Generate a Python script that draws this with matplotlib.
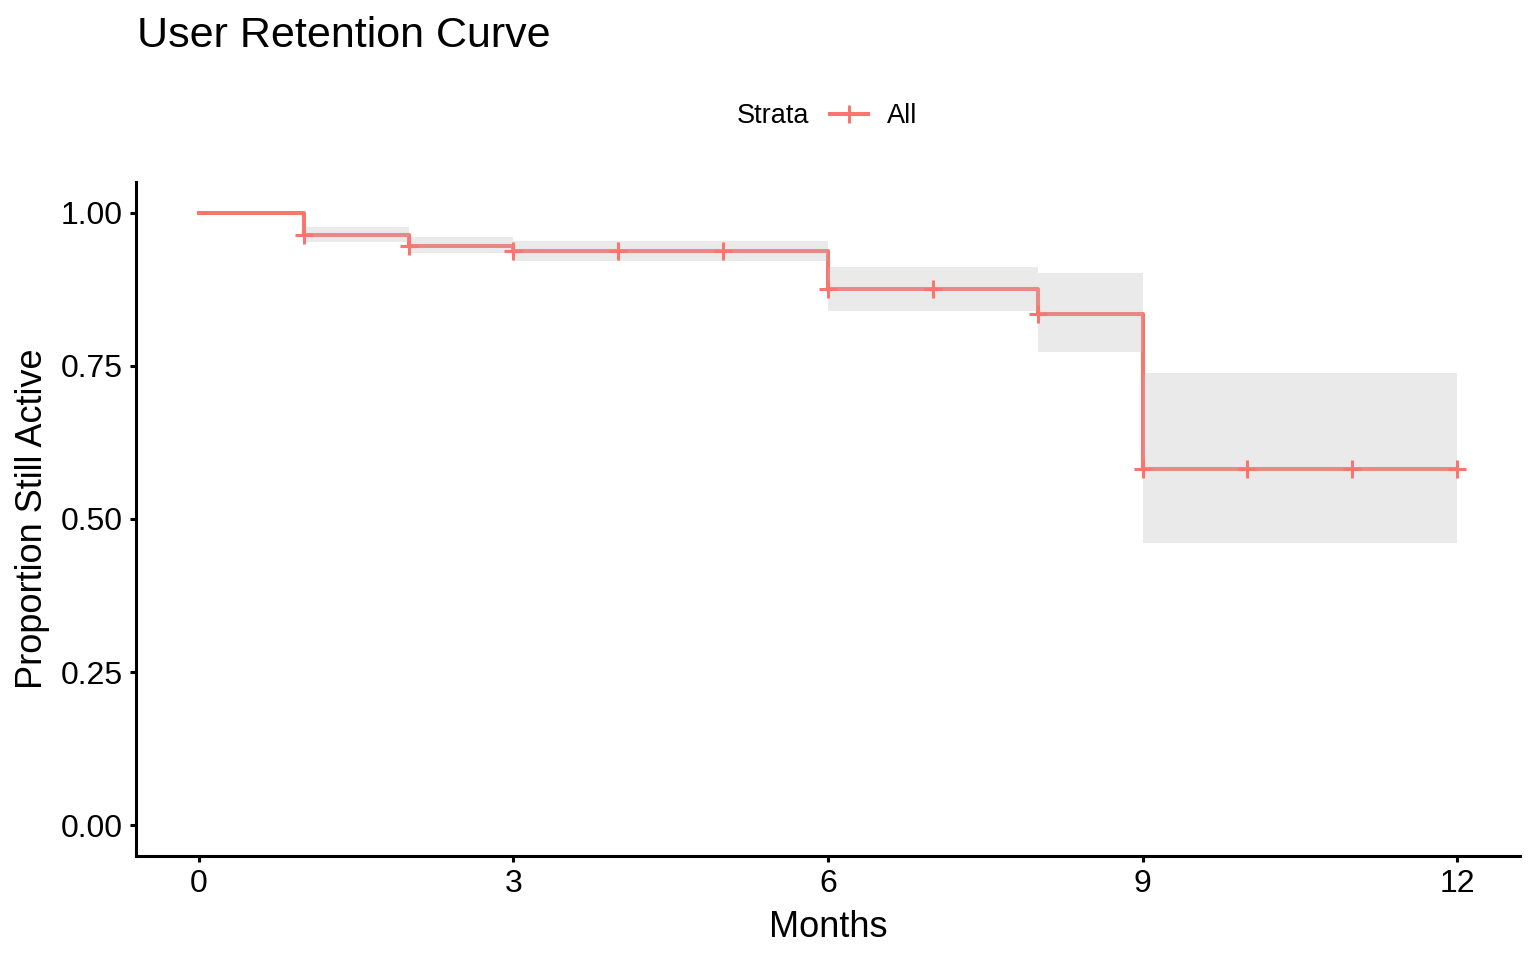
import matplotlib
matplotlib.use("Agg")
import matplotlib.pyplot as plt
from matplotlib.lines import Line2D

plt.rcParams["font.family"] = ["Liberation Sans", "DejaVu Sans"]

# Kaplan-Meier style retention estimates
months = [0, 1, 2, 3, 4, 5, 6, 7, 8, 9, 10, 11, 12]
surv = [1.0, 0.963, 0.946, 0.937, 0.937, 0.937, 0.875, 0.875, 0.835, 0.581, 0.581, 0.581, 0.581]
lower = [1.0, 0.952, 0.934, 0.921, 0.921, 0.921, 0.840, 0.840, 0.773, 0.461, 0.461, 0.461, 0.461]
upper = [1.0, 0.976, 0.961, 0.954, 0.954, 0.954, 0.911, 0.911, 0.901, 0.739, 0.739, 0.739, 0.739]
censor_months = [1, 2, 3, 4, 5, 6, 7, 8, 9, 10, 11, 12]

line_col = "#F8766D"
W, H = 1536, 960

fig = plt.figure(figsize=(W / 100, H / 100), dpi=100)
ax = fig.add_axes([136 / W, 1 - 856 / H, (1520 - 136) / W, (856 - 182) / H])

ax.step(months, surv, where="post", color=line_col, lw=2.9, zorder=2)
ax.fill_between(months, lower, upper, step="post", color="#BBBBBB", alpha=0.3,
                lw=0, zorder=3)
cens_y = [surv[months.index(m)] for m in censor_months]
ax.plot(censor_months, cens_y, ls="none", marker="+", ms=13, mew=2.2,
        color=line_col, zorder=4)

ax.set_xlim(-0.6, 12.6)
ax.set_ylim(-0.05, 1.05)
ax.set_xticks([0, 3, 6, 9, 12])
ax.set_yticks([0, 0.25, 0.5, 0.75, 1.0])
ax.set_yticklabels(["0.00", "0.25", "0.50", "0.75", "1.00"])
ax.tick_params(labelsize=23, width=2.2, length=4.5, color="black", labelcolor="black", pad=5)
for s in ["top", "right"]:
    ax.spines[s].set_visible(False)
for s in ["left", "bottom"]:
    ax.spines[s].set_linewidth(2.2)

ax.set_xlabel("Months", fontsize=26, labelpad=8)
ax.set_ylabel("Proportion Still Active", fontsize=26, labelpad=8)

fig.text(137 / W, 1 - 36 / H, "User Retention Curve", fontsize=31, ha="left", va="center")

fig.text(809 / W, 1 - 116 / H, "Strata", fontsize=19.5, ha="right", va="center")
handle = Line2D([], [], color=line_col, lw=2.9, marker="+", ms=13, mew=2.2)
fig.legend(handles=[handle], labels=["All"], loc="center left",
           bbox_to_anchor=(830 / W, 1 - 116 / H), frameon=False, fontsize=19.5,
           handlelength=1.4, handletextpad=0.7, borderpad=0, borderaxespad=0)

fig.savefig("out.png", dpi=100)
